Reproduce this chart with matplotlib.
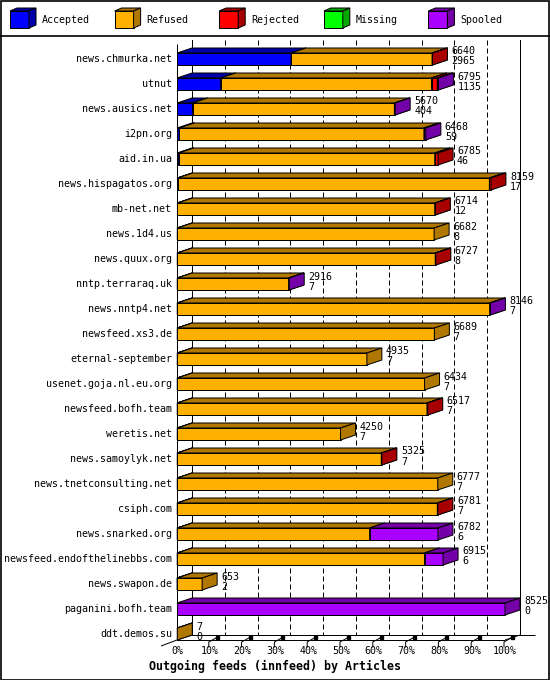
import matplotlib
matplotlib.use("Agg")
import matplotlib.pyplot as plt
from matplotlib.patches import Polygon, Rectangle
from matplotlib.lines import Line2D

# ---------------- data ----------------
hosts = ["news.chmurka.net", "utnut", "news.ausics.net", "i2pn.org", "aid.in.ua",
         "news.hispagatos.org", "mb-net.net", "news.1d4.us", "news.quux.org",
         "nntp.terraraq.uk", "news.nntp4.net", "newsfeed.xs3.de", "eternal-september",
         "usenet.goja.nl.eu.org", "newsfeed.bofh.team", "weretis.net", "news.samoylyk.net",
         "news.tnetconsulting.net", "csiph.com", "news.snarked.org",
         "newsfeed.endofthelinebbs.com", "news.swapon.de", "paganini.bofh.team", "ddt.demos.su"]
offered = [6640, 6795, 5670, 6468, 6785, 8159, 6714, 6682, 6727, 2916, 8146, 6689, 4935,
           6434, 6517, 4250, 5325, 6777, 6781, 6782, 6915, 653, 8525, 7]
accepted = [2965, 1135, 404, 59, 46, 17, 12, 8, 8, 7, 7, 7, 7, 7, 7, 7, 7, 7, 7, 6, 6, 2, 0, 0]
refused = [3665, 5480, 5246, 6359, 6654, 8102, 6687, 6674, 6704, 2894, 8119, 6682, 4928,
           6427, 6490, 4243, 5303, 6770, 6759, 5000, 6427, 651, 0, 7]
rejected = [10, 150, 0, 0, 85, 40, 15, 0, 15, 0, 0, 0, 0, 0, 20, 0, 15, 0, 15, 0, 0, 0, 0, 0]
missing = [0] * 24
spooled = [0, 30, 20, 50, 0, 0, 0, 0, 0, 15, 20, 0, 0, 0, 0, 0, 0, 0, 0, 1776, 482, 0, 8525, 0]
series_names = ["Accepted", "Refused", "Rejected", "Missing", "Spooled"]
pct_ticks = [0, 10, 20, 30, 40, 50, 60, 70, 80, 90, 100]
title = "Outgoing feeds (innfeed) by Articles"

# ---------------- style ----------------
front_cols = ["#0000FF", "#FFB000", "#FF0000", "#00FF00", "#AA00FF"]
dark_cols = ["#0000A8", "#B07800", "#A80000", "#00A800", "#7400A8"]
W, H = 550, 680
X0_PX, X100_PX = 177, 505
ROW0_PX, ROW_STEP = 59, 25
DEPTH_X, DEPTH_Y = 15, 5
HALF_H = 6
LW = 0.72
FONT = "DejaVu Sans Mono"

fig = plt.figure(figsize=(W / 100, H / 100), dpi=100)
fig.patch.set_facecolor("white")

vmax = max(offered)
xs = (X100_PX - X0_PX) / vmax          # px per article
ax = fig.add_axes([0, 0, 1, 1])
ax.set_xlim(-X0_PX / xs, (W - X0_PX) / xs)
ax.set_ylim((H - ROW0_PX) / ROW_STEP, -ROW0_PX / ROW_STEP)
ax.axis("off")

DX = DEPTH_X / xs
DY = DEPTH_Y / ROW_STEP
HH = HALF_H / ROW_STEP
def px_x(p):
    return p / xs
def px_y(p):
    return p / ROW_STEP

n = len(hosts)
floor_front = (n - 1) + HH
floor_back = floor_front - DY
top_back = px_y(40 - ROW0_PX)
top_front = px_y(44 - ROW0_PX)

# gridlines (back wall)
for p in pct_ticks:
    xv = p / 100 * vmax + DX
    solid = p in (0, 100)
    ax.add_line(Line2D([xv, xv], [top_back, floor_back], color="black", lw=LW,
                       linestyle="-" if solid else (0, (5, 3)), zorder=1))

# floor and axes
kw = dict(color="black", lw=LW, zorder=1, solid_capstyle="butt")
ax.add_line(Line2D([0, 0], [top_front, floor_front], **kw))
ax.add_line(Line2D([DX, vmax + 2 * DX], [floor_back, floor_back], **kw))
ax.add_line(Line2D([-px_x(16), vmax], [floor_front + px_y(6), floor_front], **kw) if False else
            Line2D([0, vmax], [floor_front, floor_front], **kw))
ax.add_line(Line2D([-px_x(16), 0, DX], [floor_front + px_y(6), floor_front, floor_back], **kw))
ax.add_line(Line2D([vmax, vmax + DX], [floor_front, floor_back], **kw))

# tick marks under the floor
for p in pct_ticks[1:]:
    xv = p / 100 * vmax
    ax.add_line(Line2D([xv - px_x(1), xv - px_x(1), xv + px_x(8)],
                       [floor_front + px_y(7), floor_front + px_y(2), floor_front - px_y(3)],
                       color="black", lw=LW, zorder=1))
    ax.add_patch(Rectangle((xv + px_x(6), floor_front - px_y(4)), px_x(3), px_y(3),
                           color="black", zorder=1))
    
# percent labels
for p in pct_ticks:
    ax.text(p / 100 * vmax, floor_front + px_y(11), f"{p}%", ha="center", va="center",
            fontsize=7.2, family=FONT)

# bars
pk = dict(edgecolor="black", lw=LW, joinstyle="miter")
for r in range(n):
    segs = [accepted[r], refused[r], rejected[r], missing[r], spooled[r]]
    a = 0.0
    for k, v in enumerate(segs):
        if v <= 0:
            continue
        b = a + v
        top, bot = r - HH, r + HH
        z = 3 + 0.01 * r
        ax.add_patch(Polygon([(a, top), (b, top), (b, bot), (a, bot)],
                             facecolor=front_cols[k], zorder=z, **pk))
        ax.add_patch(Polygon([(a, top), (b, top), (b + DX, top - DY), (a + DX, top - DY)],
                             facecolor=dark_cols[k], zorder=z, **pk))
        ax.add_patch(Polygon([(b, top), (b, bot), (b + DX, bot - DY), (b + DX, top - DY)],
                             facecolor=dark_cols[k], zorder=z, **pk))
        a = b
    tx = offered[r] + DX + px_x(4)
    ax.text(tx, r - px_y(7.5), f"{offered[r]}", ha="left", va="center",
            fontsize=7.2, family=FONT, zorder=5)
    ax.text(tx, r + px_y(2.5), f"{accepted[r]}", ha="left", va="center",
            fontsize=7.2, family=FONT, zorder=5)
    ax.text(-px_x(5), r, hosts[r], ha="right", va="center", fontsize=7.2, family=FONT)

fig.text(0.5, 1 - 666 / H, title, ha="center", va="center", fontsize=8.4,
         family=FONT, fontweight="bold")

# legend
lax = fig.add_axes([0, 1 - 35 / H, 1, 35 / H])
lax.set_xlim(0, W)
lax.set_ylim(35, 0)
lax.axis("off")
STEP = 104.6
for i, name in enumerate(series_names):
    x0 = 10 + STEP * i
    x1, y0, y1 = x0 + 19, 11, 28
    lax.add_patch(Polygon([(x0, y0), (x1, y0), (x1, y1), (x0, y1)],
                          facecolor=front_cols[i], **pk))
    lax.add_patch(Polygon([(x0, y0), (x1, y0), (x1 + 7, y0 - 3), (x0 + 7, y0 - 3)],
                          facecolor=dark_cols[i], **pk))
    lax.add_patch(Polygon([(x1, y0), (x1, y1), (x1 + 7, y1 - 3), (x1 + 7, y0 - 3)],
                          facecolor=dark_cols[i], **pk))
    lax.text(x0 + 32, 20, name, ha="left", va="center", fontsize=7.2, family=FONT)

# frame
fig.add_artist(Line2D([0, 1], [1 - 35.5 / H, 1 - 35.5 / H], color="black", lw=1.2,
                      transform=fig.transFigure))
fig.add_artist(Rectangle((0.5 / W, 0.5 / H), 1 - 1.5 / W, 1 - 1.5 / H, fill=False,
                         edgecolor="black", lw=1.2, transform=fig.transFigure))

fig.savefig("out.png", dpi=100, facecolor="white")
